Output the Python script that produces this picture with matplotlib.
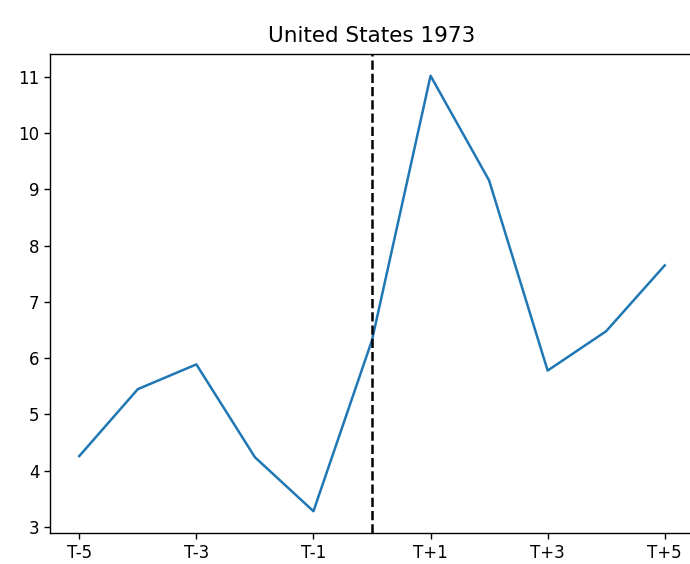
import matplotlib
matplotlib.use("Agg")
import matplotlib.pyplot as plt

# event window around 1973
offsets = list(range(-5, 6))
values = [4.26, 5.45, 5.89, 4.24, 3.28, 6.32, 11.02, 9.16, 5.78, 6.48, 7.65]
tick_pos = [-5, -3, -1, 1, 3, 5]
tick_labels = ["T-5", "T-3", "T-1", "T+1", "T+3", "T+5"]
event_at = 0

plt.rcParams["font.size"] = 12

fig = plt.figure(figsize=(6.9, 5.64), dpi=100)
ax = fig.add_axes([50 / 690, 31 / 564, 644 / 690, 479 / 564])

ax.plot(offsets, values, color="#1f77b4", linewidth=1.8)
ax.axvline(event_at, color="black", linestyle="--", linewidth=1.8)

ax.set_xticks(tick_pos)
ax.set_xticklabels(tick_labels)
ax.tick_params(length=4.2, width=1.0)
for s in ax.spines.values():
    s.set_linewidth(1.0)
ax.set_title("United States 1973", fontsize=15.5, pad=8.5)

fig.savefig("out.png", dpi=100)
